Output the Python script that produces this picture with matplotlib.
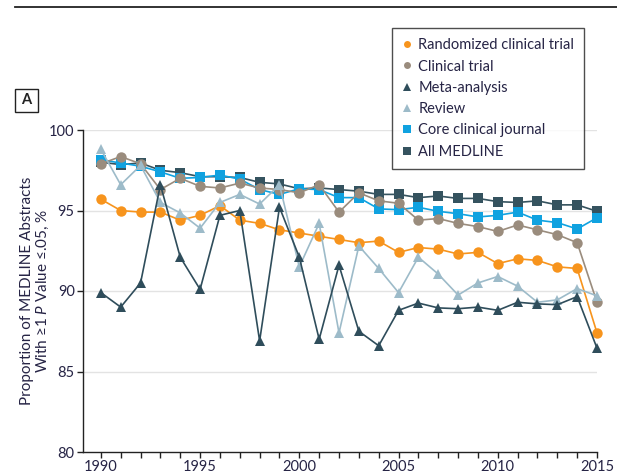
import matplotlib
matplotlib.use("Agg")
import matplotlib.pyplot as plt
from matplotlib.lines import Line2D
from matplotlib.patches import Rectangle

years = list(range(1990, 2016))

randomized = [95.7, 95.0, 94.9, 94.9, 94.4, 94.7, 95.3, 94.4, 94.2, 93.8, 93.6, 93.4, 93.2,
              93.0, 93.1, 92.4, 92.7, 92.6, 92.3, 92.4, 91.7, 92.0, 91.9, 91.5, 91.4, 87.4]
clinical = [97.9, 98.35, 97.9, 96.3, 97.0, 96.5, 96.4, 96.7, 96.4, 96.3, 96.1, 96.6, 94.9,
            96.1, 95.6, 95.45, 94.4, 94.5, 94.2, 94.0, 93.7, 94.1, 93.8, 93.5, 93.0, 89.3]
meta = [89.9, 89.0, 90.5, 96.6, 92.1, 90.1, 94.7, 95.0, 86.9, 95.2, 92.1, 87.0, 91.6,
        87.5, 86.6, 88.8, 89.25, 88.95, 88.9, 89.0, 88.8, 89.3, 89.2, 89.15, 89.65, 86.45]
review = [98.8, 96.6, 97.8, 95.5, 94.85, 93.9, 95.5, 96.0, 95.4, 96.6, 91.5, 94.2, 87.4,
          92.8, 91.4, 89.9, 92.1, 91.05, 89.75, 90.5, 90.9, 90.3, 89.3, 89.45, 90.15, 89.7]
core = [98.15, 97.95, 97.75, 97.4, 97.0, 97.05, 97.2, 96.95, 96.3, 96.0, 96.35, 96.3, 95.8,
        95.8, 95.1, 95.05, 95.2, 94.95, 94.8, 94.6, 94.7, 94.9, 94.4, 94.25, 93.85, 94.55]
medline = [98.0, 97.85, 97.95, 97.5, 97.35, 97.1, 97.1, 97.05, 96.75, 96.65, 96.35, 96.4, 96.3,
           96.2, 96.0, 96.0, 95.8, 95.9, 95.75, 95.75, 95.55, 95.5, 95.6, 95.35, 95.35, 94.95]

labels = ["Randomized clinical trial", "Clinical trial", "Meta-analysis", "Review",
          "Core clinical journal", "All MEDLINE"]

FONT = ['Lato', 'DejaVu Sans']
plt.rcParams['font.family'] = FONT
plt.rcParams['mathtext.fontset'] = 'custom'
plt.rcParams['mathtext.it'] = 'Lato:italic'
plt.rcParams['mathtext.rm'] = 'Lato'

TXT = "#262445"
C_RCT = "#F7941D"
C_CT = "#9A8C7D"
C_META = "#2F4D5B"
C_REV = "#9DBBC9"
C_CORE = "#10A2E0"
C_MED = "#35535F"

fig = plt.figure(figsize=(6.17, 4.75), dpi=100)
ax = fig.add_axes([83/617, 1-452/475, (597-83)/617, (452-130)/475])

series = [
    (medline, C_MED, 's', 7.5),
    (core, C_CORE, 's', 7.5),
    (clinical, C_CT, 'o', 7.5),
    (randomized, C_RCT, 'o', 7.5),
    (review, C_REV, '^', 7.5),
    (meta, C_META, '^', 7.5),
]
for vals, c, m, ms in series:
    ax.plot(years, vals, color=c, marker=m, markersize=ms, linewidth=1.2,
            markeredgewidth=0, clip_on=False, zorder=3)

ax.set_xlim(1989.1, 2015)
ax.set_ylim(80, 100)
ax.set_yticks([80, 85, 90, 95, 100])
ax.set_xticks(range(1990, 2016, 5))
ax.set_xticks(range(1990, 2016), minor=True)
for y in [85, 90, 95, 100]:
    ax.axhline(y, color="#E3E3E3", linewidth=1.0, zorder=0)
for s in ['top', 'right']:
    ax.spines[s].set_visible(False)
for s in ['left', 'bottom']:
    ax.spines[s].set_linewidth(1.0)
    ax.spines[s].set_color("#222222")
ax.tick_params(axis='both', which='both', direction='out', length=4, width=1,
               colors="#222222", labelcolor=TXT, labelsize=10.5)
ax.tick_params(axis='x', which='both', pad=2)
ax.tick_params(axis='y', pad=2)
ax.set_ylabel("Proportion of MEDLINE Abstracts\nWith \u22651 $\\it{P}$ Value \u2264.05, %",
              fontsize=11, color=TXT, labelpad=-1.5, linespacing=1.1)

handles = [
    Line2D([], [], color=C_RCT, marker='o', linestyle='none', markersize=5, markeredgewidth=0),
    Line2D([], [], color=C_CT, marker='o', linestyle='none', markersize=5, markeredgewidth=0),
    Line2D([], [], color=C_META, marker='^', linestyle='none', markersize=5.5, markeredgewidth=0),
    Line2D([], [], color=C_REV, marker='^', linestyle='none', markersize=5.5, markeredgewidth=0),
    Line2D([], [], color=C_CORE, marker='s', linestyle='none', markersize=5.5, markeredgewidth=0),
    Line2D([], [], color=C_MED, marker='s', linestyle='none', markersize=5.5, markeredgewidth=0),
]
leg = fig.legend(handles, labels, loc='upper left', bbox_to_anchor=(392/617, 1-28/475),
                 frameon=True, fancybox=False, edgecolor="#222222", fontsize=10.5,
                 handlelength=0.6, handletextpad=0.5, labelspacing=0.5,
                 borderpad=0.7, borderaxespad=0)
leg.get_frame().set_linewidth(1.0)
for t in leg.get_texts():
    t.set_color(TXT)

# top rule
fig.add_artist(Line2D([15/617, 1.0], [1-7/475, 1-7/475], color="#222222", linewidth=1.3))
# panel label
fig.add_artist(Rectangle((15/617, 1-112/475), 23/617, 23/475, fill=False,
                         edgecolor="#222222", linewidth=1.0, transform=fig.transFigure))
fig.text(26.5/617, 1-100.5/475, "A", ha='center', va='center', fontsize=10.5,
         fontweight='bold', color="#222222")

fig.savefig("out.png", dpi=100)
